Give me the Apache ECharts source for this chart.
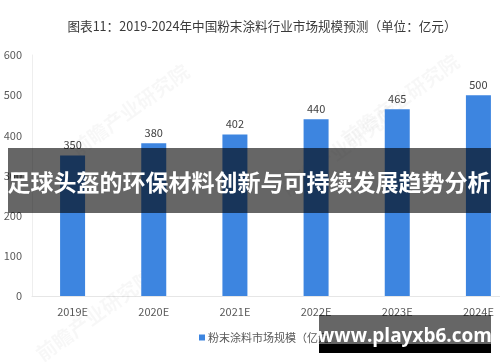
<!DOCTYPE html>
<html>
<head>
<meta charset="utf-8">
<script src="https://cdn.jsdelivr.net/npm/echarts@6/dist/echarts.min.js"></script>
<style>html,body{margin:0;padding:0;background:#fff;}#c{width:500px;height:362px;}</style>
</head>
<body>
<div id="c"></div>
<script>
var categories = ['2019E', '2020E', '2021E', '2022E', '2023E', '2024E'];
var marketSize = [350, 380, 402, 440, 465, 500];
var yTicks = [0, 100, 200, 300, 400, 500, 600];
var seriesName = '粉末涂料市场规模（亿元）';
var titleText = '图表11：2019-2024年中国粉末涂料行业市场规模预测（单位：亿元）';
var bannerText = '足球头盔的环保材料创新与可持续发展趋势分析';
var siteText = 'www.playxb6.com';
var wmText = '前瞻产业研究院';

var chart = echarts.init(document.getElementById('c'), null, {renderer: 'canvas'});
var font = 'Noto Sans CJK SC';
function wm(x, y) {
  return {type: 'text', x: x, y: y, rotation: Math.PI * 0.2, z: 1, silent: true,
    style: {text: wmText, fill: 'rgba(0,0,0,0.03)', fontSize: 20, fontWeight: 'bold', fontFamily: font, align: 'center', verticalAlign: 'middle'}};
}
chart.setOption({
  animation: false,
  textStyle: {fontFamily: font},
  title: {text: titleText, left: 257, textAlign: 'center', top: 15,
    textStyle: {fontSize: 12.6, fontWeight: 'normal', color: '#3a3a3a', fontFamily: font}},
  grid: {left: 32, width: 487, top: 55, bottom: 66, containLabel: false, outerBoundsMode: 'none'},
  legend: {data: [seriesName], left: 194, top: 327, itemWidth: 6, itemHeight: 6, itemGap: 4,
    icon: 'rect', textStyle: {fontSize: 11, color: '#595959', fontFamily: font, padding: [0,0,0,-2]}},
  xAxis: {type: 'category', data: categories,
    axisLine: {lineStyle: {color: '#e6e6e6', width: 1}}, axisTick: {show: false},
    axisLabel: {fontSize: 11, color: '#595959', margin: 10}},
  yAxis: {type: 'value', min: yTicks[0], max: yTicks[yTicks.length - 1], interval: 100,
    axisLine: {show: true, lineStyle: {color: '#eeeeee'}}, axisTick: {show: false}, splitLine: {show: false},
    axisLabel: {fontSize: 11, color: '#595959', margin: 10}},
  series: [{name: seriesName, type: 'bar', data: marketSize, barWidth: 25, z: 2,
    itemStyle: {color: '#3d85e0'},
    label: {show: true, position: 'top', fontSize: 11, color: '#404040', distance: 5}}],
  graphic: [
    wm(130, 110), wm(400, 100), wm(95, 315), wm(340, 150),
    {type: 'rect', shape: {x: 8, y: 148, width: 483, height: 65}, z: 100,
      style: {fill: 'rgba(0,0,0,0.6)'}},
    {type: 'text', x: 249, y: 182, z: 101,
      style: {text: bannerText, fill: '#ffffff', fontSize: 23, fontWeight: 'bold', fontFamily: font, align: 'center', verticalAlign: 'middle'}},
    {type: 'rect', shape: {x: 319, y: 315, width: 172, height: 29}, z: 100,
      style: {fill: 'rgba(0,0,0,0.6)'}},
    {type: 'rect', shape: {x: 319, y: 344, width: 172, height: 9}, z: 100,
      style: {fill: '#000000'}},
    {type: 'text', x: 405, y: 337, z: 101,
      style: {text: siteText, fill: '#ffffff', fontSize: 19, fontWeight: 'bold', fontFamily: 'Open Sans', align: 'center', verticalAlign: 'middle'}}
  ]
});
</script>
</body>
</html>
